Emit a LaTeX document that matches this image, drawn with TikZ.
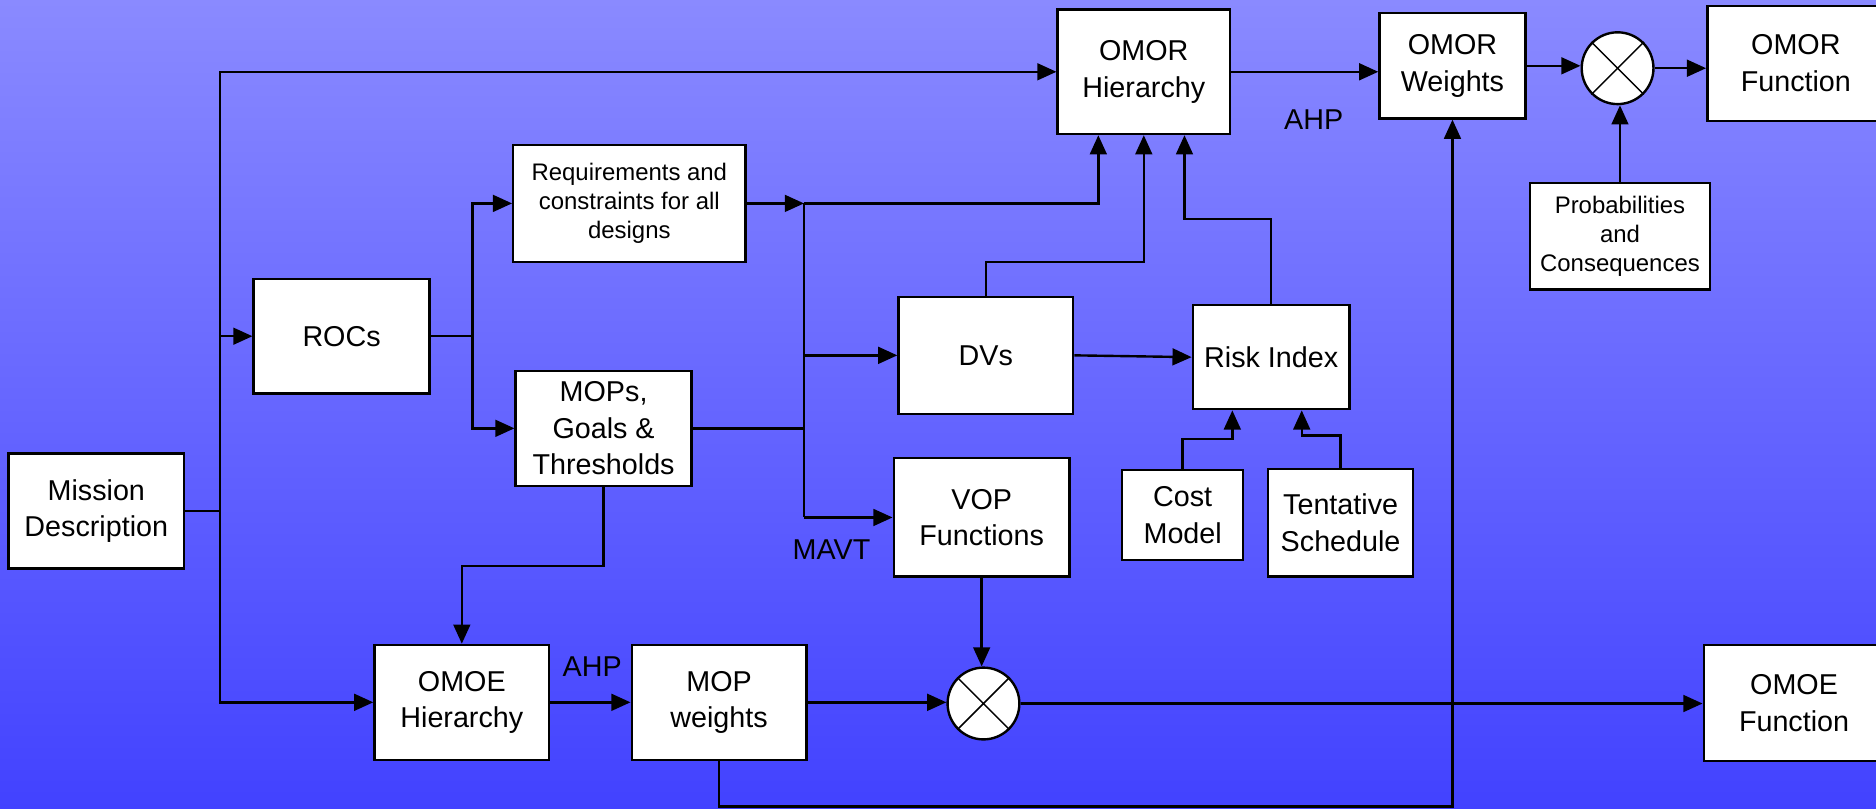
\documentclass[tikz,border=0pt]{standalone}
\usepackage{fontspec}
\setmainfont{Liberation Sans}
\usetikzlibrary{arrows.meta,shapes.geometric}
\definecolor{bgtop}{RGB}{138,138,255}
\definecolor{bgbot}{RGB}{66,66,255}
\begin{document}
\begin{tikzpicture}[x=0.5pt,y=-0.5pt,
  box/.style={draw=black,line width=1pt,fill=white,inner sep=0pt,align=center,
    font=\fontsize{12}{15.3}\selectfont},
  smallbox/.style={box,font=\fontsize{10}{12.1}\selectfont},
  mult/.style={circle,draw=black,line width=1pt,fill=white,minimum size=30pt,inner sep=0pt},
  conn/.style={line width=1pt,draw=black},
  arr/.style={conn,-{Triangle[length=8pt,width=7pt]}},
  lbl/.style={font=\fontsize{12}{15.3}\selectfont,inner sep=0pt}]
\useasboundingbox (0,0) rectangle (1568,676);
\shade[top color=bgtop,bottom color=bgbot] (0,0) rectangle (1568,676);
% boxes
\node[box,minimum width=73.5pt,minimum height=48pt] (md) at (80.5,427) {Mission\\Description};
\node[box,minimum width=73.5pt,minimum height=48pt] (rocs) at (285.5,281) {ROCs};
\node[smallbox,minimum width=97pt,minimum height=49pt] (req) at (526,170) {Requirements and\\constraints for all\\designs};
\node[box,minimum width=73.5pt,minimum height=48pt] (mops) at (504.5,358) {MOPs,\\Goals \&\\Thresholds};
\node[box,minimum width=72pt,minimum height=52pt] (omorh) at (956,60) {OMOR\\Hierarchy};
\node[box,minimum width=61pt,minimum height=44pt] (omorw) at (1214,55) {OMOR\\Weights};
\node[box,minimum width=74pt,minimum height=48pt] (omorf) at (1501,53) {OMOR\\Function};
\node[box,minimum width=73pt,minimum height=49pt] (dvs) at (824,297) {DVs};
\node[box,minimum width=65.5pt,minimum height=43.5pt] (risk) at (1062.5,298.5) {Risk Index};
\node[box,minimum width=73.5pt,minimum height=49.5pt] (vop) at (820.5,432.5) {VOP\\Functions};
\node[box,minimum width=50.5pt,minimum height=37.5pt] (cost) at (988.5,430.5) {Cost\\Model};
\node[box,minimum width=60.5pt,minimum height=45pt] (tent) at (1120.5,437) {Tentative\\Schedule};
\node[smallbox,minimum width=75pt,minimum height=44.5pt] (prob) at (1354,197.5) {Probabilities\\and\\Consequences};
\node[box,minimum width=73pt,minimum height=48pt] (omoeh) at (386,587) {OMOE\\Hierarchy};
\node[box,minimum width=73pt,minimum height=48pt] (mopw) at (601,587) {MOP\\weights};
\node[box,minimum width=75.5pt,minimum height=48.5pt] (omoef) at (1499.5,587.5) {OMOE\\Function};
\node[mult] (m1) at (1352,57) {};
\draw[line width=0.6pt] (m1.north west) -- (m1.south east) (m1.north east) -- (m1.south west);
\node[mult] (m2) at (822,588) {};
\draw[line width=0.6pt] (m2.north west) -- (m2.south east) (m2.north east) -- (m2.south west);
% labels
\node[lbl] (ahp1) at (1098,100) {AHP};
\node[lbl] (ahp2) at (495,557) {AHP};
\node[lbl] (mavt) at (695,459) {MAVT};
% trunk from mission description
\coordinate (t0) at (184,427);
\coordinate (troc) at (184,281);
\draw[conn] (md.east) -- (t0);
\draw[arr] (t0) |- (omorh.west);
\draw[arr] (t0) |- (omoeh.west);
\draw[arr] (troc) -- (rocs.west);
% ROCs split
\coordinate (rj) at (395,281);
\draw[conn] (rocs.east) -- (rj);
\draw[arr] (rj) |- (req.west);
\draw[arr] (rj) |- (mops.west);
% requirements / MOPs bus
\coordinate (vj) at (672,170);
\coordinate (vd) at (672,297);
\coordinate (vm) at (672,358);
\coordinate (vv) at (672,432.5);
\draw[arr] (req.east) -- (vj);
\draw[arr] (vj) -| ([xshift=-19pt]omorh.south);
\draw[conn] (vj) -- (vv);
\draw[conn] (mops.east) -- (vm);
\draw[arr] (vd) -- (dvs.west);
\draw[arr] (vv) -- (vop.west);
% DVs and risk
\draw[arr] (dvs.north) -- ++(0,-28) -| (omorh.south);
\draw[arr] (risk.north) -- ++(0,-71) -| ([xshift=17pt]omorh.south);
\draw[arr] (dvs.east) -- (risk.west);
\draw[arr] (cost.north) -- ++(0,-25) -| ([xshift=-16.25pt]risk.south);
\draw[arr] (tent.north) -- ++(0,-27) -| ([xshift=12.75pt]risk.south);
% OMOR chain
\draw[arr] (omorh.east) -- (omorh.east -| omorw.west);
\draw[arr] (omorw.east) -- (omorw.east -| m1.west);
\draw[arr] (m1.east) -- (m1.east -| omorf.west);
\draw[arr] (prob.north) -- (prob.north |- m1.south);
% OMOE chain
\draw[arr] (mops.south) -- ++(0,66) -| (omoeh.north);
\draw[arr] (omoeh.east) -- (mopw.west);
\draw[arr] (mopw.east) -- (mopw.east -| m2.west);
\draw[arr] (vop.south) -- (vop.south |- m2.north);
\draw[arr] (m2.east) -- (m2.east -| omoef.west);
\draw[arr] (mopw.south) -- ++(0,38) -| (omorw.south);
\end{tikzpicture}
\end{document}
